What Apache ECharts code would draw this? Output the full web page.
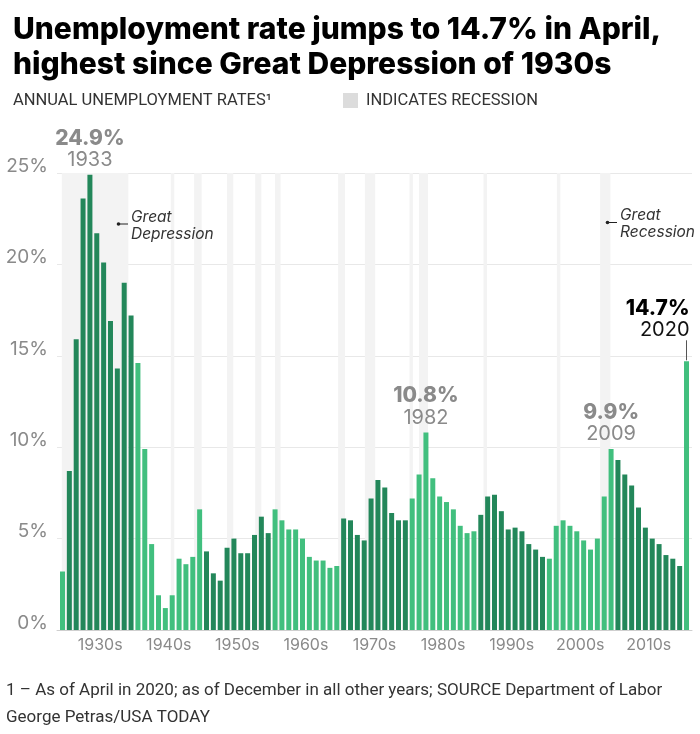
<!DOCTYPE html>
<html><head><meta charset="utf-8">
<script src="https://cdn.jsdelivr.net/npm/echarts@6/dist/echarts.min.js"></script>
<style>html,body{margin:0;padding:0;background:#fff}#c{width:700px;height:734px}</style>
</head><body><div id="c"></div>
<script>
// ---- DATA ----
const years = [1929,1930,1931,1932,1933,1934,1935,1936,1937,1938,1939,
1940,1941,1942,1943,1944,1945,1946,1947,1948,1949,
1950,1951,1952,1953,1954,1955,1956,1957,1958,1959,
1960,1961,1962,1963,1964,1965,1966,1967,1968,1969,
1970,1971,1972,1973,1974,1975,1976,1977,1978,1979,
1980,1981,1982,1983,1984,1985,1986,1987,1988,1989,
1990,1991,1992,1993,1994,1995,1996,1997,1998,1999,
2000,2001,2002,2003,2004,2005,2006,2007,2008,2009,
2010,2011,2012,2013,2014,2015,2016,2017,2018,2019,2020];
const rates = [3.2,8.7,15.9,23.6,24.9,21.7,20.1,16.9,14.3,19.0,17.2,
14.6,9.9,4.7,1.9,1.2,1.9,3.9,3.6,4.0,6.6,
4.3,3.1,2.7,4.5,5.0,4.2,4.2,5.2,6.2,5.3,
6.6,6.0,5.5,5.5,5.0,4.0,3.8,3.8,3.4,3.5,
6.1,6.0,5.2,4.9,7.2,8.2,7.8,6.4,6.0,6.0,
7.2,8.5,10.8,8.3,7.3,7.0,6.6,5.7,5.3,5.4,
6.3,7.3,7.4,6.5,5.5,5.6,5.4,4.7,4.4,4.0,
3.9,5.7,6.0,5.7,5.4,4.9,4.4,5.0,7.3,9.9,
9.3,8.5,7.9,6.7,5.6,5.0,4.7,4.1,3.9,3.5,14.7];
const decadeLabels = ['1930s','1940s','1950s','1960s','1970s','1980s','1990s','2000s','2010s'];
const yTicks = [0,5,10,15,20,25];
const recessions = [[1928.9,1938.6],[1944.8,1945.3],[1948.2,1949.3],[1953.0,1953.9],[1957.1,1958.0],
[1960.0,1960.8],[1969.2,1970.2],[1973.1,1974.6],[1979.6,1980.1],[1981.0,1982.3],[1990.4,1990.9],
[2001.1,2001.6],[2007.4,2008.9]];
const peakYears = [1933,1982,2009];
const latestYear = 2020;

// ---- STYLE ----
const DARK = '#23875a', LIGHT = '#41bf7e';
const GRAY = '#8a8a8a';
const FONT = 'Inter, "Noto Sans", sans-serif';
const NOTE = 'Roboto, sans-serif';

const chart = echarts.init(document.getElementById('c'));

const barData = years.map((y, i) => {
  const item = { value: [y, rates[i]], itemStyle: { color: Math.floor(y / 10) % 2 === 1 ? DARK : LIGHT } };
  if (peakYears.includes(y)) {
    item.label = {
      show: true, position: 'top', distance: 4,
      formatter: '{a|' + rates[i].toFixed(1) + '%}\n{b|' + y + '}',
      rich: {
        a: { fontFamily: FONT, fontSize: 21, fontWeight: 800, color: GRAY, lineHeight: 21, align: 'center' },
        b: { fontFamily: FONT, fontSize: 20, color: GRAY, lineHeight: 22, align: 'center' }
      }
    };
  }
  if (y === latestYear) {
    item.label = {
      show: true, position: 'top', distance: 20, align: 'right', offset: [3, 0],
      formatter: '{a|' + rates[i].toFixed(1) + '%}\n{b|' + y + '}',
      rich: {
        a: { fontFamily: FONT, fontSize: 21, fontWeight: 800, color: '#000', lineHeight: 21, align: 'right' },
        b: { fontFamily: FONT, fontSize: 20, color: '#111', lineHeight: 22, align: 'right' }
      }
    };
  }
  return item;
});

chart.setOption({
  animation: false,
  title: {
    text: 'Unemployment rate jumps to 14.7% in April,\nhighest since Great Depression of 1930s',
    left: 8, top: 7,
    textStyle: { fontFamily: FONT, fontSize: 30, fontWeight: 800, color: '#000', lineHeight: 35 }
  },
  grid: { left: 57, right: 8, top: 173, bottom: 104 },
  xAxis: {
    type: 'value', min: 1928.2, max: 2020.8,
    splitLine: { show: false },
    axisTick: { show: false },
    axisLine: { show: true, lineStyle: { color: '#cfcfcf', width: 1 } },
    axisLabel: {
      customValues: decadeLabels.map(d => parseInt(d) + 4.5),
      formatter: v => (Math.floor(v / 10) * 10) + 's',
      color: GRAY, fontFamily: FONT, fontSize: 16, margin: 7
    }
  },
  yAxis: {
    type: 'value', min: 0, max: 25, interval: 5,
    axisLine: { show: false }, axisTick: { show: false },
    splitLine: { lineStyle: { color: '#e8e8e8', width: 1 } },
    axisLabel: { formatter: '{value}%', color: GRAY, fontFamily: FONT, fontSize: 19, lineHeight: 14, margin: 9, verticalAlign: 'bottom' }
  },
  series: [{
    type: 'bar',
    barWidth: 5,
    data: barData,
    markArea: {
      silent: true,
      itemStyle: { color: '#f3f3f3' },
      data: recessions.map(r => [{ xAxis: r[0] }, { xAxis: r[1] }])
    }
  }]
});

const pTop = chart.convertToPixel({ xAxisIndex: 0, yAxisIndex: 0 }, [latestYear, rates[years.indexOf(latestYear)]]);
const txt = (x, y, text, style) => ({ type: 'text', x, y, z: 100, style: Object.assign({ text, fontFamily: FONT }, style) });

chart.setOption({
  graphic: [
    txt(13, 92, 'ANNUAL UNEMPLOYMENT RATES¹', { fontSize: 16.5, fill: '#333', fontFamily: NOTE }),
    { type: 'rect', z: 100, shape: { x: 343, y: 93, width: 15, height: 15 }, style: { fill: '#dcdcdc' } },
    txt(366, 92, 'INDICATES RECESSION', { fontSize: 16.5, fill: '#333', fontFamily: NOTE }),
    // Great Depression annotation
    { type: 'circle', z: 100, shape: { cx: 118.5, cy: 224, r: 1.8 }, style: { fill: '#222' } },
    { type: 'line', z: 100, shape: { x1: 118.5, y1: 224, x2: 128, y2: 224 }, style: { stroke: '#222', lineWidth: 1 } },
    txt(131, 209, 'Great\nDepression', { fontSize: 15.5, fontStyle: 'italic', fill: '#333', lineHeight: 17 }),
    // Great Recession annotation
    { type: 'circle', z: 100, shape: { cx: 607.5, cy: 222.5, r: 1.8 }, style: { fill: '#222' } },
    { type: 'line', z: 100, shape: { x1: 607.5, y1: 222.5, x2: 617, y2: 222.5 }, style: { stroke: '#222', lineWidth: 1 } },
    txt(620, 207, 'Great\nRecession', { fontSize: 15.5, fontStyle: 'italic', fill: '#333', lineHeight: 17 }),
    // leader line for latest value
    { type: 'line', z: 100, shape: { x1: pTop[0], y1: pTop[1] - 21, x2: pTop[0], y2: pTop[1] - 1 }, style: { stroke: '#555', lineWidth: 1 } },
    // footer
    txt(6, 682, '1 – As of April in 2020; as of December in all other years; SOURCE Department of Labor', { fontSize: 17, fill: '#333', fontFamily: NOTE }),
    txt(6, 709, 'George Petras/USA TODAY', { fontSize: 17, fill: '#333', fontFamily: NOTE })
  ]
});
</script>
</body></html>
